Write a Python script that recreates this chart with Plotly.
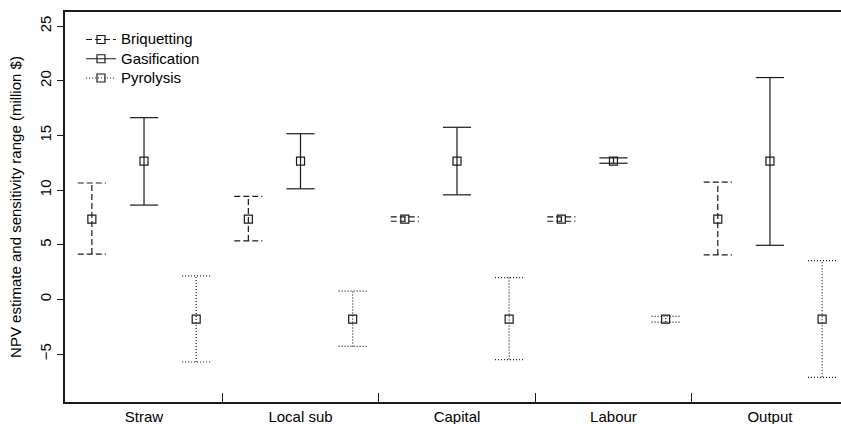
import plotly.graph_objects as go

categories = ["Straw", "Local sub", "Capital", "Labour", "Output"]
series_names = ["Briquetting", "Gasification", "Pyrolysis"]

bri_est = [7.35, 7.35, 7.35, 7.35, 7.35]
bri_low = [4.15, 5.35, 7.15, 7.15, 4.07]
bri_high = [10.65, 9.42, 7.55, 7.55, 10.73]

gas_est = [12.65, 12.65, 12.65, 12.65, 12.65]
gas_low = [8.63, 10.12, 9.57, 12.46, 4.95]
gas_high = [16.63, 15.16, 15.75, 12.95, 20.3]

pyr_est = [-1.8, -1.8, -1.8, -1.8, -1.8]
pyr_low = [-5.73, -4.3, -5.51, -2.08, -7.13]
pyr_high = [2.15, 0.75, 2.0, -1.56, 3.55]

y_ticks = [-5, 0, 5, 10, 15, 20, 25]

FONT = "Liberation Sans, Arial, Helvetica, sans-serif"
INK = "#1a1a1a"

series = [
    (series_names[0], bri_est, bri_low, bri_high, -1/3, "6px,3px"),
    (series_names[1], gas_est, gas_low, gas_high, 0.0, "solid"),
    (series_names[2], pyr_est, pyr_low, pyr_high, 1/3, "1px,2px"),
]

cap_hw = 0.09

fig = go.Figure()
for name, est, lo, hi, off, dash in series:
    xs = [i + off for i in range(len(categories))]
    X, Y = [], []
    for x, l, h in zip(xs, lo, hi):
        X += [x, x, None, x - cap_hw, x + cap_hw, None, x - cap_hw, x + cap_hw, None]
        Y += [l, h, None, l, l, None, h, h, None]
    fig.add_trace(go.Scatter(x=X, y=Y, mode="lines", showlegend=False,
                             line=dict(color=INK, width=1.2, dash=dash),
                             hoverinfo="skip", legendgroup=name))
for name, est, lo, hi, off, dash in series:
    xs = [i + off for i in range(len(categories))]
    MX, MY = [], []
    for x, e in zip(xs, est):
        MX += [x, None]
        MY += [e, None]
    fig.add_trace(go.Scatter(x=MX, y=MY, mode="lines+markers",
                             name='<span style="font-size:15px">%s</span>' % name,
                             legendgroup=name,
                             line=dict(color=INK, width=1.2, dash=dash),
                             marker=dict(symbol="square-open", size=8,
                                         color=INK, line=dict(width=1.2, color=INK))))

n = len(categories)
fig.update_layout(
    width=841, height=424,
    margin=dict(l=65, r=0, t=12, b=22, autoexpand=False),
    paper_bgcolor="white", plot_bgcolor="white",
    font=dict(family=FONT, size=15, color="black"),
    showlegend=True,
    legend=dict(x=0.0206, y=0.967, xanchor="left", yanchor="top",
                bgcolor="rgba(0,0,0,0)", borderwidth=0,
                font=dict(family=FONT, size=12.5, color="black"),
                tracegroupgap=0),
    xaxis=dict(range=[-0.505, 4.454], tickmode="array",
               tickvals=list(range(n)), ticktext=categories,
               ticks="", showline=True, linecolor=INK, linewidth=1.5,
               mirror=True, showgrid=False, zeroline=False,
               tickfont=dict(family=FONT, size=15, color="black"),
               minor=dict(tickmode="array", tickvals=[i + 0.5 for i in range(n - 1)],
                          ticks="inside", ticklen=9, tickcolor=INK, tickwidth=1,
                          showgrid=False)),
    yaxis=dict(range=[-9.39, 26.3], tickmode="array", tickvals=y_ticks,
               ticks="outside", ticklen=6, tickcolor=INK, tickwidth=1,
               tickangle=-90, showline=True, linecolor=INK, linewidth=1.5,
               showgrid=False, zeroline=False,
               tickfont=dict(family=FONT, size=15, color="black"),
               title=dict(text="NPV estimate and sensitivity range (million $)",
                          font=dict(family=FONT, size=15, color="black"),
                          standoff=12)),
)

fig.write_html("out.html",
               config={"displayModeBar": False},
               post_script="document.body.style.margin='0';document.body.style.overflow='hidden';")
